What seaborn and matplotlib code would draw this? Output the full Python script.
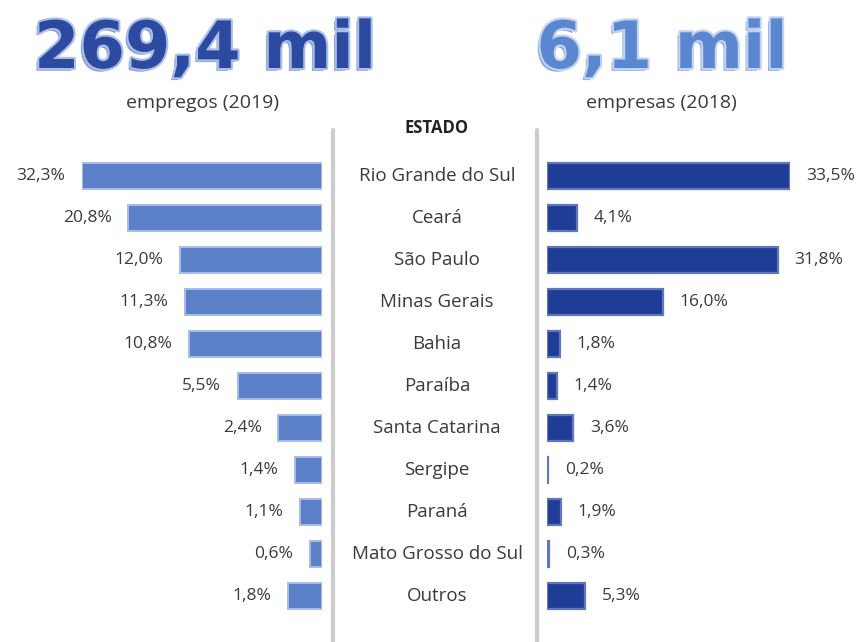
import numpy as np
import matplotlib
matplotlib.use("Agg")
import matplotlib.pyplot as plt
import matplotlib.patheffects as pe
from matplotlib.lines import Line2D
import seaborn as sns
import pandas as pd

# ---- data ----
estados = ["Rio Grande do Sul", "Ceará", "São Paulo", "Minas Gerais", "Bahia",
           "Paraíba", "Santa Catarina", "Sergipe", "Paraná",
           "Mato Grosso do Sul", "Outros"]
empregos = [32.3, 20.8, 12.0, 11.3, 10.8, 5.5, 2.4, 1.4, 1.1, 0.6, 1.8]
empresas = [33.5, 4.1, 31.8, 16.0, 1.8, 1.4, 3.6, 0.2, 1.9, 0.3, 5.3]
titulo_esq = "269,4 mil"
titulo_dir = "6,1 mil"
sub_esq = "empregos (2019)"
sub_dir = "empresas (2018)"
cabecalho = "ESTADO"

sns.set_theme(style="white")
plt.rcParams['font.family'] = ['Open Sans', 'DejaVu Sans']

W, H = 861, 642
fig = plt.figure(figsize=(W / 100, H / 100), dpi=100)
fig.patch.set_facecolor("white")

def fx(px):
    return px / W

def fy(py):
    return 1 - py / H

top_px, bot_px = 155, 617
ax_b = fy(bot_px)
ax_h = (bot_px - top_px) / H

df = pd.DataFrame({"estado": estados, "empregos": empregos, "empresas": empresas})

c_left = "#5B80C8"
c_right = "#1F3C96"
txt = "#3a3a3a"

# left axes (bars growing leftwards)
axL = fig.add_axes([fx(82), ax_b, fx(322) - fx(82), ax_h])
fwd = lambda x: np.sign(x) * np.log1p(np.abs(x) / 6.0)
inv = lambda x: np.sign(x) * 6.0 * np.expm1(np.abs(x))
axL.set_xscale("function", functions=(fwd, inv))
sns.barplot(data=df, x="empregos", y="estado", orient="h", ax=axL,
            color=c_left, width=0.64, edgecolor="#a7bce8", linewidth=1.4,
            saturation=1)
axL.set_xlim(max(empregos), 0)
for i, v in enumerate(empregos):
    axL.annotate(f"{v:.1f}%".replace(".", ","), xy=(v, i), xytext=(-12, 0),
                 textcoords="offset points", ha="right", va="center",
                 fontsize=12.5, color=txt, annotation_clip=False)

# right axes
axR = fig.add_axes([fx(547), ax_b, fx(790) - fx(547), ax_h])
sns.barplot(data=df, x="empresas", y="estado", orient="h", ax=axR,
            color=c_right, width=0.64, edgecolor="#5f78bd", linewidth=1.6,
            saturation=1)
axR.set_xlim(0, max(empresas))
for i, v in enumerate(empresas):
    axR.annotate(f"{v:.1f}%".replace(".", ","), xy=(v, i), xytext=(12, 0),
                 textcoords="offset points", ha="left", va="center",
                 fontsize=12.5, color=txt, annotation_clip=False)

for ax in (axL, axR):
    ax.set_xlabel("")
    ax.set_ylabel("")
    ax.set_xticks([])
    ax.set_yticks([])
    for s in ax.spines.values():
        s.set_visible(False)
    ax.patch.set_alpha(0)

# center labels
axC = fig.add_axes([fx(340), ax_b, fx(534) - fx(340), ax_h])
axC.set_xlim(0, 1)
axC.set_ylim(len(estados) - 0.5, -0.5)
axC.axis("off")
for i, e in enumerate(estados):
    axC.text(0.5, i, e, ha="center", va="center", fontsize=13.5, color=txt)

fig.text(fx(437), fy(128), cabecalho, ha="center", va="center",
         fontsize=12, fontweight="bold", color="#222222")

# separator lines
for xp in (333, 537):
    fig.add_artist(Line2D([fx(xp), fx(xp)], [fy(130), 0], color="#cccccc",
                          linewidth=3, transform=fig.transFigure))

# titles
eff_l = [pe.withSimplePatchShadow(offset=(-2, -2), shadow_rgbFace="#3f5fb5", alpha=0.6),
         pe.withStroke(linewidth=3, foreground="#a9bde8")]
eff_r = [pe.withSimplePatchShadow(offset=(-2, -2), shadow_rgbFace="#3f6fc5", alpha=0.6),
         pe.withStroke(linewidth=3, foreground="#c2d3f2")]
fig.text(fx(205), fy(68), titulo_esq, ha="center", va="baseline", fontsize=47,
         fontweight="bold", family=["DejaVu Sans"], color="#2B4AA0",
         path_effects=eff_l)
fig.text(fx(662), fy(68), titulo_dir, ha="center", va="baseline", fontsize=47,
         fontweight="bold", family=["DejaVu Sans"], color="#5B87D0",
         path_effects=eff_r)
fig.text(fx(203), fy(103), sub_esq, ha="center", va="center", fontsize=14,
         color=txt)
fig.text(fx(661), fy(103), sub_dir, ha="center", va="center", fontsize=14,
         color=txt)

fig.savefig("out.png", dpi=100, facecolor="white")
